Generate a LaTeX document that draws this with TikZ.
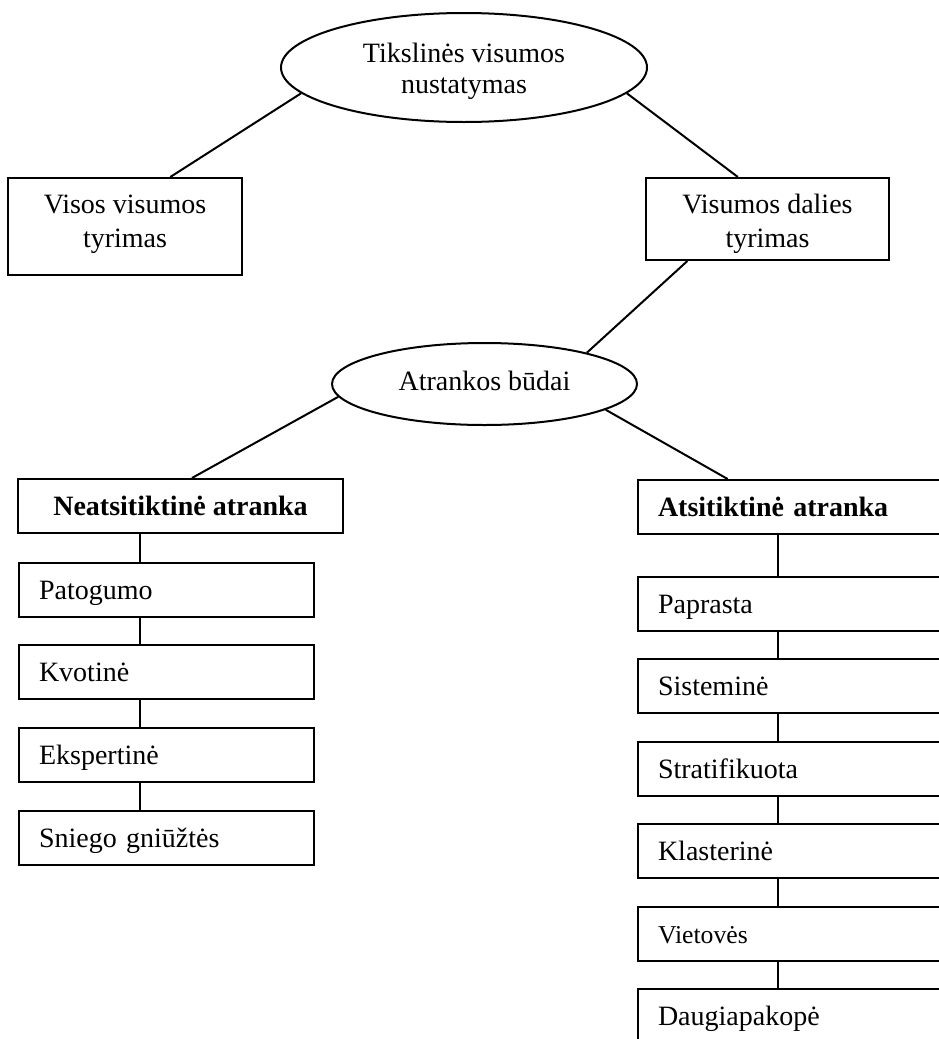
\documentclass[tikz,border=0pt]{standalone}
\usepackage{fontspec}
\setmainfont{Liberation Serif}
\usetikzlibrary{shapes.geometric,calc}
\begin{document}
\begin{tikzpicture}[x=1pt,y=-1pt,line width=2pt,
  txt/.style={font=\fontsize{28}{31}\selectfont},
  oval/.style={draw,ellipse,inner sep=0pt,align=center,txt},
  bigbox/.style={draw,rectangle,inner sep=0pt,align=center,font=\fontsize{28}{34}\selectfont},
  item/.style={draw,rectangle,inner xsep=20pt,inner ysep=0pt,minimum height=54pt,
    text height=25pt,text depth=6pt,align=left,anchor=north west,txt},
  litem/.style={item,text width=255pt},
  ritem/.style={item,text width=300pt},
]
\useasboundingbox (0,0) rectangle (939,1039);
\clip (0,0) rectangle (939,1039);

% top level
\node[oval,minimum width=366pt,minimum height=109pt,text height=59pt,text depth=8pt] (top) at (464,67.5) {Tikslinės visumos\\nustatymas};
\node[bigbox,minimum width=234pt,minimum height=97pt,text height=49pt,text depth=8pt] (lbox) at (125,226.5) {Visos visumos\\tyrimas};
\node[bigbox,minimum width=243pt,minimum height=82pt,text height=64pt,text depth=8pt] (rbox) at (767.5,219) {Visumos dalies\\tyrimas};
\node[oval,minimum width=305pt,minimum height=82pt,text height=19pt,text depth=7pt] (atr) at (484.5,384) {Atrankos būdai};

% left column
\node[bigbox,minimum width=325pt,minimum height=54pt,text height=25pt,text depth=7pt,
  font=\fontsize{28}{31}\selectfont\bfseries] (neat) at (180.5,506) {Neatsitiktinė atranka};
\node[litem] (pat) at (18,562) {Patogumo};
\node[litem] (kvo) at (18,644) {Kvotinė};
\node[litem] (eks) at (18,727) {Ekspertinė};
\node[litem] (sni) at (18,810) {Sniego gniūžtės};

% right column
\node[ritem,font=\fontsize{28}{31}\selectfont\bfseries] (atsi) at (637,479) {Atsitiktinė atranka};
\node[ritem] (pap) at (637,576) {Paprasta};
\node[ritem] (sis) at (637,658) {Sisteminė};
\node[ritem] (str) at (637,741) {Stratifikuota};
\node[ritem] (kla) at (637,823) {Klasterinė};
\node[ritem,font=\fontsize{25.7}{29}\selectfont] (vie) at (637,906) {Vietovės};
\node[ritem] (dau) at (637,988) {Daugiapakopė};

% connectors
\draw (top.189) -- ($(lbox.north west)!0.692!(lbox.north east)$);
\draw (top.351) -- ($(rbox.north west)!0.379!(rbox.north east)$);
\draw ($(rbox.south west)!0.173!(rbox.south east)$) -- (atr.17.4);
\draw (atr.185.2) -- ($(neat.north west)!0.535!(neat.north east)$);
\draw (atr.348.3) -- ($(atsi.north west)!0.265!(atsi.north east)$);

\coordinate (lc) at (140,0);
\coordinate (rc) at (778,0);
\draw (neat.south -| lc) -- (pat.north -| lc);
\draw (pat.south -| lc) -- (kvo.north -| lc);
\draw (kvo.south -| lc) -- (eks.north -| lc);
\draw (eks.south -| lc) -- (sni.north -| lc);

\draw (atsi.south -| rc) -- (pap.north -| rc);
\draw (pap.south -| rc) -- (sis.north -| rc);
\draw (sis.south -| rc) -- (str.north -| rc);
\draw (str.south -| rc) -- (kla.north -| rc);
\draw (kla.south -| rc) -- (vie.north -| rc);
\draw (vie.south -| rc) -- (dau.north -| rc);
\end{tikzpicture}
\end{document}
